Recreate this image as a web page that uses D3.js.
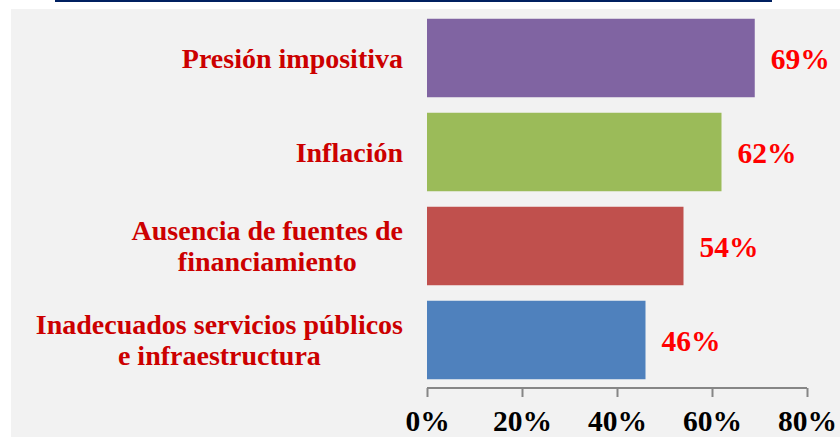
<!DOCTYPE html>
<html>
<head>
  <meta charset="utf-8">
  <script src="https://d3js.org/d3.v7.min.js"></script>
  <style>
    body { margin: 0; background: #fff; }
    svg { display: block; }
  </style>
</head>
<body>
  <svg id="chart"></svg>
  <script>
  // data
  const categories = [
    ["Presión impositiva"],
    ["Inflación"],
    ["Ausencia de fuentes de", "financiamiento"],
    ["Inadecuados servicios públicos", "e infraestructura"]
  ]
  const values = [0.69, 0.62, 0.54, 0.46]
  const barColors = ["#8064a2", "#9bbb59", "#c0504d", "#4f81bd"]
  const tickValues = [0, 0.2, 0.4, 0.6, 0.8]

  const width = 840, height = 437
  const svg = d3.select("#chart").attr("width", width).attr("height", height)

  // gray panel and the navy rule above it
  svg.append("rect").attr("x", 11).attr("y", 9).attr("width", width - 11).attr("height", height - 9).attr("fill", "#f2f2f2")
  svg.append("line").attr("x1", 55).attr("x2", 772).attr("y1", 1).attr("y2", 1)
    .attr("stroke", "#002060").attr("stroke-width", 2)

  const x = d3.scaleLinear().domain([0, 0.8]).range([427, 807])
  const y = d3.scaleBand().domain(d3.range(values.length)).range([11, 387])
    .paddingInner(0.165).paddingOuter(0.0825)

  const font = "'Liberation Serif', 'Times New Roman', serif"

  svg.selectAll("rect.bar")
    .data(values)
    .join("rect")
    .attr("class", "bar")
    .attr("x", x(0))
    .attr("y", (d, i) => y(i))
    .attr("width", d => x(d) - x(0))
    .attr("height", y.bandwidth())
    .attr("fill", (d, i) => barColors[i])

  // value labels
  svg.selectAll("text.val")
    .data(values)
    .join("text")
    .attr("class", "val")
    .attr("x", d => x(d) + 16)
    .attr("y", (d, i) => y(i) + y.bandwidth() / 2 + 11)
    .attr("font-family", font)
    .attr("font-weight", "bold")
    .attr("font-size", 29.5)
    .attr("fill", "#ff0000")
    .text(d => d3.format(".0%")(d))

  // category labels: centred blocks whose widest line ends at x=403
  const labelRight = 403
  const cat = svg.selectAll("text.cat")
    .data(categories)
    .join("text")
    .attr("class", "cat")
    .attr("text-anchor", "middle")
    .attr("font-family", font)
    .attr("font-weight", "bold")
    .attr("font-size", 28)
    .attr("fill", "#cc0000")
  cat.each(function(lines, i) {
    const mid = y(i) + y.bandwidth() / 2 + 9.5
    const lineH = 31
    const spans = d3.select(this).selectAll("tspan")
      .data(lines)
      .join("tspan")
      .attr("y", (l, j) => mid + (j - (lines.length - 1) / 2) * lineH)
      .text(l => l)
    let maxW = 0
    spans.each(function() { maxW = Math.max(maxW, this.getComputedTextLength()) })
    spans.attr("x", labelRight - maxW / 2)
  })

  // x axis
  const axis = svg.append("g")
    .attr("transform", "translate(0,388)")
    .call(d3.axisBottom(x).tickValues(tickValues).tickFormat(d3.format(".0%")).tickSize(9).tickPadding(13))
  axis.select(".domain").attr("stroke", "#868686").attr("stroke-width", 2).attr("d", "M" + x(0) + ",0H" + x(0.8))
  axis.selectAll(".tick line").attr("stroke", "#868686").attr("stroke-width", 2)
  axis.selectAll(".tick text")
    .attr("font-family", font)
    .attr("font-weight", "bold")
    .attr("font-size", 29.5)
    .attr("fill", "#000")
  </script>
</body>
</html>
